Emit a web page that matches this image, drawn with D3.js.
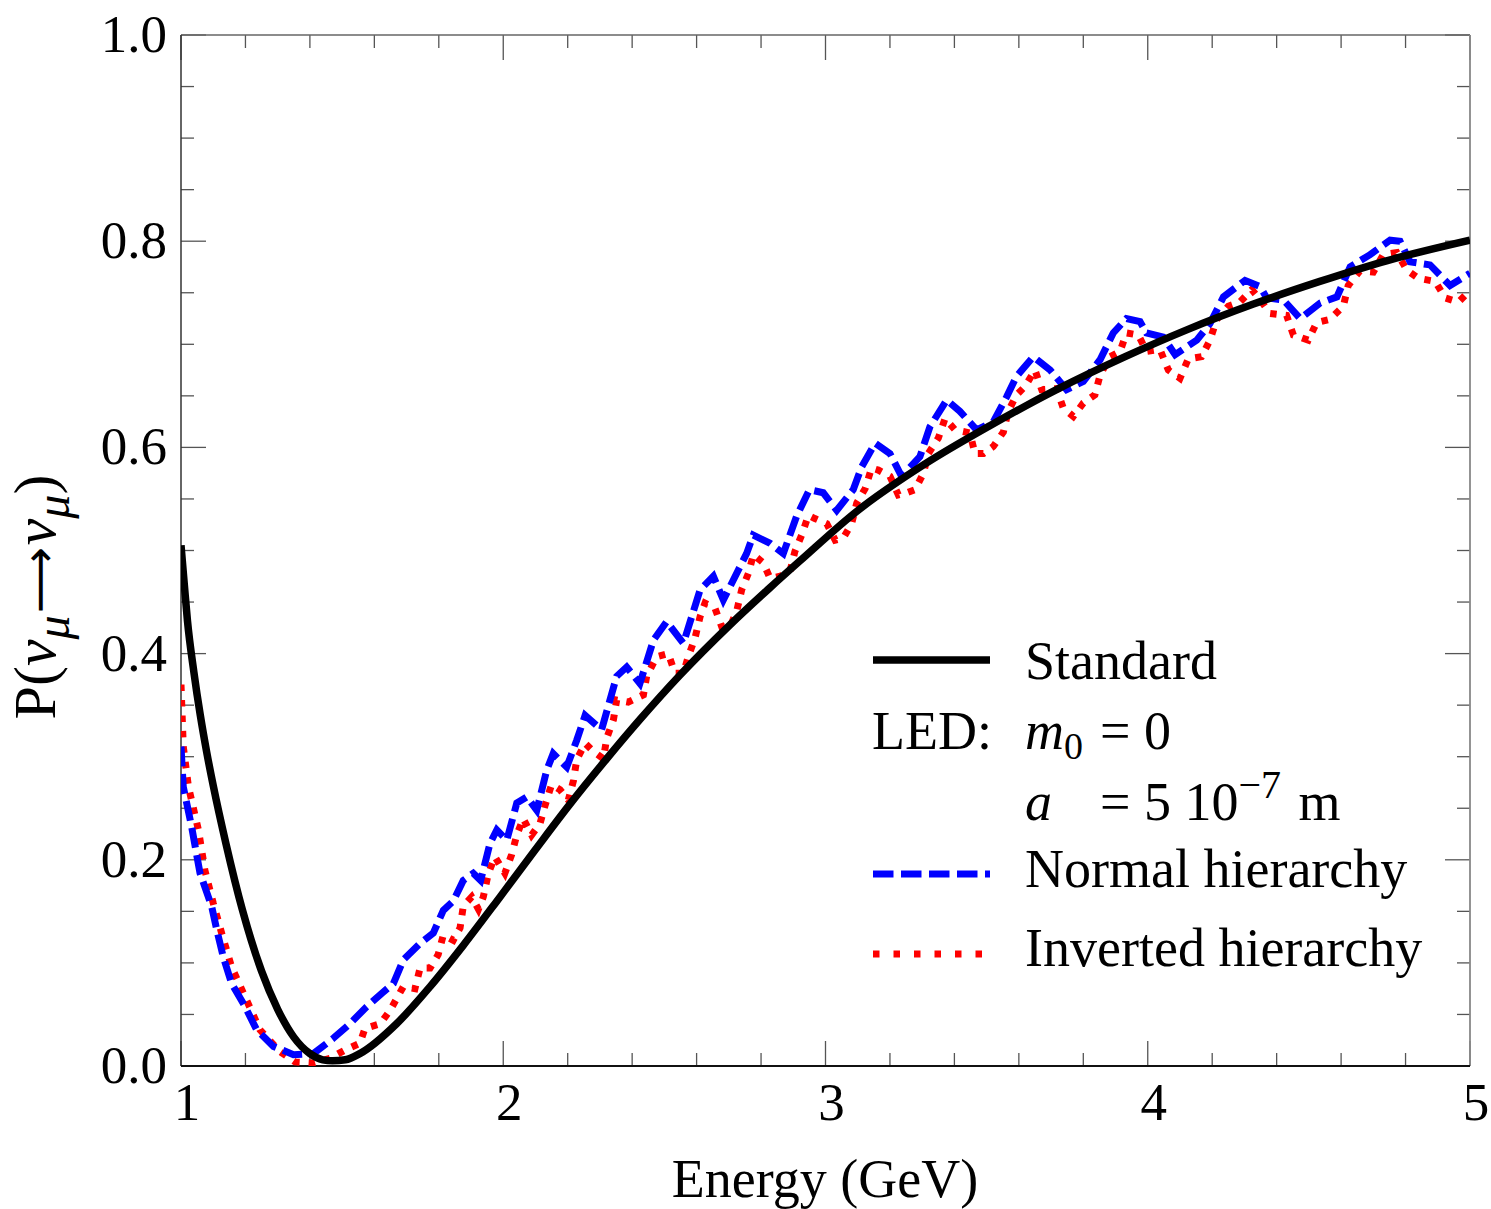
<!DOCTYPE html>
<html>
<head>
<meta charset="utf-8">
<script src="https://cdn.jsdelivr.net/npm/d3@7"></script>
<style>
  body { margin: 0; background: #fff; }
  svg text { font-family: "Liberation Serif", "DejaVu Serif", serif; fill: #000; }
</style>
</head>
<body>
<svg id="chart" width="1491" height="1209"></svg>
<script>
// standard oscillation (black, solid)
const energyStd = [1.0, 1.01, 1.02, 1.04, 1.06, 1.08, 1.10, 1.14, 1.19, 1.25, 1.30, 1.35, 1.40, 1.44, 1.47, 1.51, 1.555,
  1.669, 1.773, 1.876, 1.99, 2.1, 2.207, 2.321, 2.424, 2.548, 2.704, 2.828, 2.921, 3.097, 3.304, 3.51,
  3.717, 3.93, 4.121, 4.328, 4.534, 4.741, 5.0];
const probStd = [0.505, 0.468, 0.432, 0.382, 0.340, 0.304, 0.272, 0.215, 0.152, 0.092, 0.055, 0.028, 0.012, 0.006, 0.005, 0.006, 0.012,
  0.041, 0.077, 0.117, 0.164, 0.210, 0.254, 0.298, 0.336, 0.379, 0.428, 0.464, 0.490, 0.538, 0.583, 0.621,
  0.656, 0.688, 0.714, 0.739, 0.761, 0.781, 0.801];

// LED, normal hierarchy (blue, dashed)
const energyNH = [1.0, 1.007, 1.033, 1.059, 1.095, 1.111, 1.131, 1.157, 1.199, 1.235, 1.287, 1.349, 1.411, 1.473,
  1.524, 1.576, 1.623, 1.659, 1.69, 1.742, 1.783, 1.814, 1.845, 1.876, 1.907, 1.93, 1.959, 1.98, 2.011,
  2.042, 2.073, 2.104, 2.135, 2.155, 2.197, 2.228, 2.254, 2.305, 2.352, 2.383, 2.424, 2.466, 2.507, 2.559,
  2.611, 2.652, 2.683, 2.755, 2.776, 2.828, 2.869, 2.91, 2.95, 2.993, 3.035, 3.086, 3.112, 3.154, 3.2,
  3.236, 3.293, 3.324, 3.376, 3.417, 3.469, 3.521, 3.562, 3.593, 3.645, 3.697, 3.748, 3.8, 3.852, 3.893,
  3.934, 3.976, 3.996, 4.048, 4.085, 4.152, 4.193, 4.235, 4.302, 4.349, 4.369, 4.421, 4.473, 4.535, 4.587,
  4.628, 4.69, 4.752, 4.783, 4.814, 4.876, 4.938, 5.0];
const probNH = [0.31, 0.271, 0.232, 0.187, 0.155, 0.132, 0.106, 0.080, 0.0575, 0.035, 0.019, 0.011, 0.012, 0.027,
  0.041, 0.0575, 0.0705, 0.080, 0.103, 0.119, 0.129, 0.151, 0.16, 0.180, 0.187, 0.18, 0.216, 0.229, 0.219,
  0.255, 0.261, 0.248, 0.287, 0.303, 0.290, 0.316, 0.340, 0.326, 0.378, 0.387, 0.371, 0.413, 0.431, 0.410,
  0.462, 0.475, 0.452, 0.497, 0.515, 0.507, 0.497, 0.533, 0.559, 0.556, 0.539, 0.559, 0.581, 0.604, 0.594,
  0.572, 0.591, 0.620, 0.646, 0.635, 0.617, 0.625, 0.649, 0.669, 0.688, 0.675, 0.656, 0.664, 0.685, 0.711,
  0.725, 0.722, 0.711, 0.707, 0.690, 0.704, 0.720, 0.746, 0.762, 0.756, 0.745, 0.743, 0.725, 0.740, 0.746,
  0.775, 0.787, 0.801, 0.800, 0.780, 0.777, 0.757, 0.769];

// LED, inverted hierarchy (red, dotted)
const energyIH = [1.0, 1.007, 1.023, 1.054, 1.074, 1.1, 1.126, 1.157, 1.199, 1.245, 1.307, 1.354, 1.411, 1.462,
  1.509, 1.555, 1.571, 1.618, 1.649, 1.69, 1.726, 1.742, 1.773, 1.798, 1.814, 1.845, 1.866, 1.876, 1.902,
  1.923, 1.938, 1.954, 1.974, 2.005, 2.026, 2.042, 2.062, 2.088, 2.114, 2.130, 2.150, 2.176, 2.202, 2.218,
  2.228, 2.254, 2.280, 2.311, 2.321, 2.342, 2.352, 2.388, 2.435, 2.445, 2.476, 2.512, 2.533, 2.559, 2.574,
  2.595, 2.611, 2.626, 2.657, 2.678, 2.704, 2.725, 2.740, 2.761, 2.776, 2.807, 2.828, 2.859, 2.890, 2.905,
  2.926, 2.947, 2.967, 3.004, 3.030, 3.055, 3.081, 3.097, 3.123, 3.143, 3.164, 3.200, 3.226, 3.252, 3.278,
  3.304, 3.319, 3.350, 3.371, 3.402, 3.448, 3.464, 3.490, 3.521, 3.552, 3.567, 3.593, 3.619, 3.650, 3.671,
  3.717, 3.738, 3.769, 3.800, 3.836, 3.852, 3.883, 3.914, 3.934, 3.971, 3.996, 4.038, 4.064, 4.100, 4.126,
  4.167, 4.193, 4.214, 4.250, 4.286, 4.323, 4.354, 4.379, 4.431, 4.452, 4.498, 4.524, 4.564, 4.607, 4.622,
  4.658, 4.700, 4.731, 4.773, 4.804, 4.840, 4.892, 4.923, 4.964, 5.0];
const probIH = [0.37, 0.310, 0.271, 0.229, 0.190, 0.158, 0.129, 0.096, 0.067, 0.035, 0.014, 0.004, 0.003, 0.0075,
  0.0155, 0.022, 0.0365, 0.041, 0.054, 0.077, 0.075, 0.095, 0.095, 0.108, 0.127, 0.122, 0.134, 0.155, 0.164,
  0.152, 0.164, 0.187, 0.203, 0.187, 0.205, 0.224, 0.240, 0.224, 0.235, 0.253, 0.273, 0.268, 0.258, 0.277,
  0.297, 0.313, 0.305, 0.298, 0.318, 0.336, 0.355, 0.353, 0.360, 0.378, 0.397, 0.400, 0.381, 0.381, 0.397,
  0.415, 0.436, 0.449, 0.444, 0.426, 0.426, 0.442, 0.462, 0.478, 0.496, 0.488, 0.473, 0.475, 0.480, 0.499,
  0.515, 0.534, 0.531, 0.526, 0.510, 0.512, 0.526, 0.546, 0.560, 0.580, 0.578, 0.572, 0.554, 0.556, 0.559,
  0.575, 0.594, 0.609, 0.628, 0.617, 0.614, 0.594, 0.594, 0.601, 0.615, 0.635, 0.651, 0.659, 0.675, 0.656,
  0.657, 0.638, 0.630, 0.643, 0.651, 0.670, 0.688, 0.693, 0.711, 0.709, 0.693, 0.695, 0.675, 0.667, 0.686,
  0.688, 0.704, 0.724, 0.737, 0.741, 0.753, 0.741, 0.730, 0.728, 0.709, 0.704, 0.721, 0.724, 0.737, 0.757,
  0.771, 0.770, 0.787, 0.789, 0.772, 0.764, 0.761, 0.745, 0.741, 0.752];

const xTickLabels = ["1", "2", "3", "4", "5"];
const yTickLabels = ["0.0", "0.2", "0.4", "0.6", "0.8", "1.0"];

const svg = d3.select("#chart");
const W = 1491, H = 1209;
const pLeft = 181, pRight = 1470, pTop = 35, pBottom = 1066;

svg.append("rect").attr("width", W).attr("height", H).attr("fill", "#fff");

const x = d3.scaleLinear().domain([1, 5]).range([pLeft, pRight]);
const y = d3.scaleLinear().domain([0, 1]).range([pBottom, pTop]);

// ticks on all four sides
const ticks = svg.append("g").attr("stroke", "#555").attr("stroke-width", 1.3);
const isMajorX = v => Math.abs(v - Math.round(v)) < 1e-6;
const isMajorY = v => Math.abs(v * 5 - Math.round(v * 5)) < 1e-6;
x.ticks(16).forEach(v => {
  const len = isMajorX(v) ? 25 : 13;
  ticks.append("line").attr("x1", x(v)).attr("x2", x(v)).attr("y1", pBottom).attr("y2", pBottom - len);
  ticks.append("line").attr("x1", x(v)).attr("x2", x(v)).attr("y1", pTop).attr("y2", pTop + len);
});
y.ticks(20).forEach(v => {
  const len = isMajorY(v) ? 25 : 13;
  ticks.append("line").attr("y1", y(v)).attr("y2", y(v)).attr("x1", pLeft).attr("x2", pLeft + len);
  ticks.append("line").attr("y1", y(v)).attr("y2", y(v)).attr("x1", pRight).attr("x2", pRight - len);
});

// frame
svg.append("line").attr("x1", pLeft).attr("x2", pRight).attr("y1", pTop).attr("y2", pTop)
  .attr("stroke", "#666").attr("stroke-width", 1.5);
svg.append("line").attr("x1", pRight).attr("x2", pRight).attr("y1", pTop).attr("y2", pBottom)
  .attr("stroke", "#888").attr("stroke-width", 1.8);
svg.append("line").attr("x1", pLeft).attr("x2", pLeft).attr("y1", pTop).attr("y2", pBottom)
  .attr("stroke", "#333").attr("stroke-width", 1.5);
svg.append("line").attr("x1", pLeft).attr("x2", pRight).attr("y1", pBottom).attr("y2", pBottom)
  .attr("stroke", "#111").attr("stroke-width", 1.8);

// tick labels
svg.append("g").selectAll("text").data(xTickLabels).join("text")
  .attr("x", d => x(+d) + 6).attr("y", 1120)
  .attr("text-anchor", "middle").attr("font-size", 53).text(d => d);
svg.append("g").selectAll("text").data(yTickLabels).join("text")
  .attr("x", 167).attr("y", d => y(+d) + 17)
  .attr("text-anchor", "end").attr("font-size", 53).text(d => d);

// axis titles
svg.append("text").attr("x", 825).attr("y", 1197).attr("text-anchor", "middle")
  .attr("font-size", 54).text("Energy (GeV)");

const yl = svg.append("text").attr("transform", "translate(55,597) rotate(-90)")
  .attr("text-anchor", "middle").attr("font-size", 60);
yl.append("tspan").text("P(");
yl.append("tspan").attr("font-style", "italic").text("ν");
yl.append("tspan").attr("font-style", "italic").attr("font-size", 48).attr("dy", 14).text("μ");
yl.append("tspan").attr("dy", -14).attr("dx", 2).attr("font-family", "DejaVu Sans").attr("font-size", 46).text("⟶");
yl.append("tspan").attr("font-style", "italic").attr("dx", 2).text("ν");
yl.append("tspan").attr("font-style", "italic").attr("font-size", 48).attr("dy", 14).text("μ");
yl.append("tspan").attr("dy", -14).text(")");

// curves
svg.append("clipPath").attr("id", "plotclip").append("rect")
  .attr("x", pLeft).attr("y", pTop - 10).attr("width", pRight - pLeft).attr("height", pBottom - pTop + 10);

const line = d3.line().x(d => x(d[0])).y(d => y(d[1]));
const plot = svg.append("g").attr("clip-path", "url(#plotclip)");

plot.append("path").datum(d3.zip(energyIH, probIH))
  .attr("d", line).attr("fill", "none").attr("stroke", "#ff0000")
  .attr("stroke-width", 7).attr("stroke-dasharray", "6.5,9");
plot.append("path").datum(d3.zip(energyNH, probNH))
  .attr("d", line).attr("fill", "none").attr("stroke", "#0000ff")
  .attr("stroke-width", 7).attr("stroke-dasharray", "20,7.5");
plot.append("path").datum(d3.zip(energyStd, probStd))
  .attr("d", line.curve(d3.curveMonotoneX)).attr("fill", "none").attr("stroke", "#000")
  .attr("stroke-width", 7.5);

// legend
const lg = svg.append("g");
lg.append("line").attr("x1", 873).attr("x2", 990).attr("y1", 660).attr("y2", 660)
  .attr("stroke", "#000").attr("stroke-width", 7.5);
lg.append("line").attr("x1", 873).attr("x2", 990).attr("y1", 874).attr("y2", 874)
  .attr("stroke", "#0000ff").attr("stroke-width", 7).attr("stroke-dasharray", "20.5,7.5");
lg.append("line").attr("x1", 873).attr("x2", 985).attr("y1", 954).attr("y2", 954)
  .attr("stroke", "#ff0000").attr("stroke-width", 7).attr("stroke-dasharray", "6.5,14");

lg.append("text").attr("x", 1025).attr("y", 679).attr("font-size", 54).text("Standard");
lg.append("text").attr("x", 872).attr("y", 749).attr("font-size", 54).text("LED:");
const m0 = lg.append("text").attr("x", 1025).attr("y", 749).attr("font-size", 54);
m0.append("tspan").attr("font-style", "italic").text("m");
m0.append("tspan").attr("font-size", 38).attr("dy", 10).text("0");
lg.append("text").attr("x", 1100).attr("y", 749).attr("font-size", 54).text("= 0");
lg.append("text").attr("x", 1025).attr("y", 820).attr("font-style", "italic").attr("font-size", 54).text("a");
const av = lg.append("text").attr("x", 1100).attr("y", 820).attr("font-size", 54);
av.append("tspan").text("= 5 10");
av.append("tspan").attr("font-size", 40).attr("dy", -22).text("−7");
av.append("tspan").attr("dy", 22).attr("dx", 4).text(" m");
lg.append("text").attr("x", 1025).attr("y", 887).attr("font-size", 54).text("Normal hierarchy");
lg.append("text").attr("x", 1025).attr("y", 966).attr("font-size", 54).text("Inverted hierarchy");
</script>
</body>
</html>
